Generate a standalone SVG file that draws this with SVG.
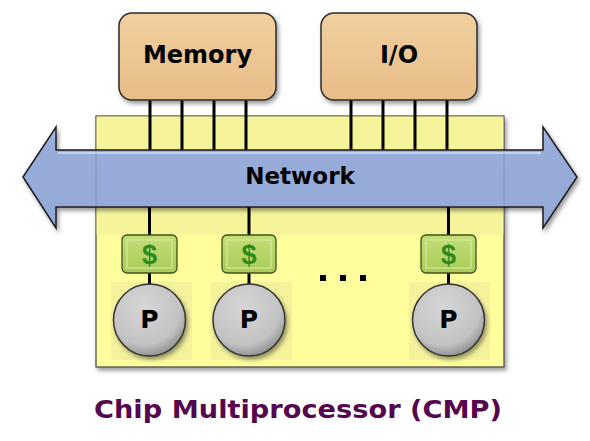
<svg xmlns="http://www.w3.org/2000/svg" width="590" height="441" viewBox="0 0 590 441">
<defs>
<linearGradient id="gTan" x1="0" y1="0" x2="0" y2="1">
<stop offset="0" stop-color="#f1cf9f"/><stop offset="1" stop-color="#e7bd88"/>
</linearGradient>
<radialGradient id="gP" cx="0.42" cy="0.32" r="0.7">
<stop offset="0" stop-color="#d6d6d6"/><stop offset="0.75" stop-color="#c2c2c2"/><stop offset="1" stop-color="#8f8f8f"/>
</radialGradient>
<linearGradient id="gCache" x1="0" y1="0" x2="0" y2="1">
<stop offset="0" stop-color="#c3dd78"/><stop offset="1" stop-color="#a8cc58"/>
</linearGradient>
<linearGradient id="gArrow" x1="0" y1="0" x2="0" y2="1">
<stop offset="0" stop-color="#a9bde4"/><stop offset="0.15" stop-color="#97acd9"/><stop offset="1" stop-color="#94a9d6"/>
</linearGradient>
<filter id="sh" x="-10%" y="-10%" width="130%" height="130%">
<feDropShadow dx="2" dy="3" stdDeviation="2" flood-color="#000" flood-opacity="0.4"/>
</filter>
</defs>
<style>
.box{fill:url(#gTan);stroke:#2b2b2b;stroke-width:1.5;filter:url(#sh)}
.lbl{font-family:"DejaVu Sans","Liberation Sans",sans-serif;font-weight:bold;fill:#000;text-anchor:middle}
.wire{stroke:#000;stroke-width:3;fill:none}
.cache{fill:url(#gCache);stroke:#3e5218;stroke-width:1.3}
.cin{fill:none;stroke:#d6ea9a;stroke-width:1.5;opacity:0.8}
.dollar{font-family:"Liberation Sans","DejaVu Sans",sans-serif;font-weight:bold;font-size:27px;fill:#2e8a1c;text-anchor:middle}
.proc{fill:url(#gP);stroke:#333;stroke-width:1.5;filter:url(#sh)}
.pbg{fill:#f5f29c}
</style>

<g id="chip">
<rect x="96" y="116" width="408" height="251" fill="#fffe9c" stroke="#444" stroke-width="1.2" filter="url(#sh)"/>
<rect x="96.6" y="116.6" width="406.8" height="118" fill="#f6f49a"/>
<rect class="pbg" x="111" y="282" width="81" height="78"/>
<rect class="pbg" x="211" y="282" width="81" height="78"/>
<rect class="pbg" x="409" y="282" width="81" height="78"/>
</g>

<g id="connectors">
<line class="wire" x1="150" y1="100" x2="150" y2="151"/>
<line class="wire" x1="182" y1="100" x2="182" y2="151"/>
<line class="wire" x1="214" y1="100" x2="214" y2="151"/>
<line class="wire" x1="246" y1="100" x2="246" y2="151"/>
<line class="wire" x1="351" y1="100" x2="351" y2="151"/>
<line class="wire" x1="383" y1="100" x2="383" y2="151"/>
<line class="wire" x1="415" y1="100" x2="415" y2="151"/>
<line class="wire" x1="447" y1="100" x2="447" y2="151"/>
<line class="wire" x1="149.5" y1="206" x2="149.5" y2="236"/>
<line class="wire" x1="249" y1="206" x2="249" y2="236"/>
<line class="wire" x1="448.5" y1="206" x2="448.5" y2="236"/>
<line class="wire" x1="149.5" y1="273" x2="149.5" y2="286" stroke-width="2.5"/>
<line class="wire" x1="249" y1="273" x2="249" y2="286" stroke-width="2.5"/>
<line class="wire" x1="448.5" y1="273" x2="448.5" y2="286" stroke-width="2.5"/>
</g>

<g id="memory">
<rect class="box" x="119" y="13" width="157" height="87" rx="13"/>
<text class="lbl" x="197.5" y="63" font-size="24">Memory</text>
</g>

<g id="io">
<rect class="box" x="321" y="13" width="156" height="87" rx="13"/>
<text class="lbl" x="399" y="63" font-size="24">I/O</text>
</g>

<g id="network">
<path d="M23,177 L56,127 L56,150 L543,150 L543,127 L577,177 L543,228 L543,207 L56,207 L56,228 Z" fill="url(#gArrow)" stroke="#1e1e1e" stroke-width="1.5" stroke-linejoin="miter" filter="url(#sh)"/>
<line x1="58" y1="153" x2="541" y2="153" stroke="#c4d3f0" stroke-width="2"/>
<line x1="96" y1="151" x2="96" y2="206" stroke="#6f7f8f" stroke-width="0.8" opacity="0.6"/>
<line x1="504" y1="151" x2="504" y2="206" stroke="#6f7f8f" stroke-width="0.8" opacity="0.6"/>
<text class="lbl" x="300" y="184" font-size="23">Network</text>
</g>

<g id="cache1">
<rect class="cache" x="122" y="235" width="55" height="38" rx="5"/>
<rect class="cin" x="127" y="240" width="45" height="28"/>
<text class="dollar" x="149.5" y="264">$</text>
</g>
<g id="cache2">
<rect class="cache" x="222" y="235" width="54" height="38" rx="5"/>
<rect class="cin" x="227" y="240" width="44" height="28"/>
<text class="dollar" x="249" y="264">$</text>
</g>
<g id="cache3">
<rect class="cache" x="421" y="235" width="55" height="38" rx="5"/>
<rect class="cin" x="426" y="240" width="45" height="28"/>
<text class="dollar" x="448.5" y="264">$</text>
</g>

<g id="p1">
<circle class="proc" cx="149.5" cy="320" r="36"/>
<text class="lbl" x="149.5" y="328" font-size="25">P</text>
</g>
<g id="p2">
<circle class="proc" cx="249" cy="320" r="36"/>
<text class="lbl" x="249" y="328" font-size="25">P</text>
</g>
<g id="p3">
<circle class="proc" cx="448.5" cy="320" r="36"/>
<text class="lbl" x="448.5" y="328" font-size="25">P</text>
</g>

<g id="dots" fill="#000">
<rect x="320" y="275" width="6" height="6"/>
<rect x="340" y="275" width="6" height="6"/>
<rect x="360" y="275" width="6" height="6"/>
</g>

<text id="title" x="298" y="418" font-family="DejaVu Sans, Liberation Sans, sans-serif" font-weight="bold" font-size="25" fill="#55064f" text-anchor="middle" textLength="408" lengthAdjust="spacingAndGlyphs">Chip Multiprocessor (CMP)</text>
</svg>
